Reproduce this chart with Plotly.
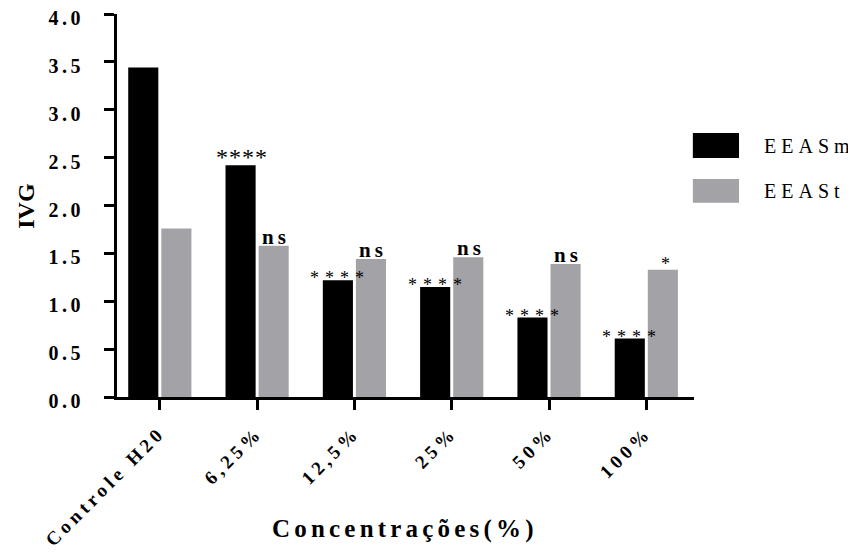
import plotly.graph_objects as go

categories = ["Controle H20", "6,25%", "12,5%", "25%", "50%", "100%"]
eeasm = [3.44, 2.42, 1.22, 1.15, 0.83, 0.61]
eeast = [1.76, 1.58, 1.44, 1.46, 1.39, 1.33]
sig_eeasm = ["", "****", "****", "****", "****", "****"]
sig_eeast = ["", "ns", "ns", "ns", "ns", "*"]
series_names = ["EEASm", "EEASt"]
y_ticks = [0.0, 0.5, 1.0, 1.5, 2.0, 2.5, 3.0, 3.5, 4.0]

BLACK = "#000000"
GRAY = "#a3a2a6"
SERIF = "Liberation Serif, Times New Roman, serif"


def spaced(text, px, bold=False):
    s = '<span style="letter-spacing:%spx">%s</span>' % (px, text)
    return "<b>%s</b>" % s if bold else s


fig = go.Figure()
fig.add_trace(go.Bar(x=categories, y=eeasm, name=series_names[0],
                     marker=dict(color=BLACK, line=dict(width=0)), showlegend=False))
fig.add_trace(go.Bar(x=categories, y=eeast, name=series_names[1],
                     marker=dict(color=GRAY, line=dict(width=0)), showlegend=False))

annotations = []
for i, (cat, v, s) in enumerate(zip(categories, eeasm, sig_eeasm)):
    if not s:
        continue
    if i == 1:
        txt, size, ys, xs = spaced(s, 1), 24, -7, -15
    else:
        txt, size, ys, xs = spaced(s, 6), 18, -10, -14
    annotations.append(dict(x=cat, y=v, text=txt, xref="x", yref="y", showarrow=False,
                            xshift=xs, yanchor="bottom", yshift=ys,
                            font=dict(family=SERIF, size=size, color="black")))
for cat, v, s in zip(categories, eeast, sig_eeast):
    if not s:
        continue
    if s == "ns":
        txt, size, ys = spaced(s, 4, bold=True), 21, -5
    else:
        txt, size, ys = spaced(s, 0), 18, -6
    annotations.append(dict(x=cat, y=v, text=txt, xref="x", yref="y", showarrow=False,
                            xshift=19, yanchor="bottom", yshift=ys,
                            font=dict(family=SERIF, size=size, color="black")))

# custom legend (large swatches)
legend_colors = [BLACK, GRAY]
legend_y = [(0.624, 0.689), (0.507, 0.569)]
shapes = []
for name, col, (y0, y1) in zip(series_names, legend_colors, legend_y):
    shapes.append(dict(type="rect", xref="paper", yref="paper", x0=0.998, x1=1.078,
                       y0=y0, y1=y1, fillcolor=col, line=dict(width=0)))
    annotations.append(dict(x=1.118, y=(y0 + y1) / 2, xref="paper", yref="paper",
                            text=spaced(name, 5), showarrow=False,
                            xanchor="left", yanchor="middle",
                            font=dict(family=SERIF, size=20, color="black")))

annotations.append(dict(x=0.499, y=-0.345, xref="paper", yref="paper",
                        text=spaced("Concentrações(%)", 4.2, bold=True), showarrow=False,
                        xanchor="center", yanchor="middle",
                        font=dict(family=SERIF, size=25, color="black")))
annotations.append(dict(x=-0.159, y=0.50, xref="paper", yref="paper",
                        text="<b>IVG</b>", showarrow=False, textangle=-90,
                        xanchor="center", yanchor="middle",
                        font=dict(family=SERIF, size=24, color="black")))

# the page body adds an 8px offset; margins compensate so the plot lands where the reference has it
fig.update_layout(
    width=848, height=546,
    margin=dict(l=109, r=162, t=6, b=157),
    plot_bgcolor="white", paper_bgcolor="white",
    barmode="group", bargap=0.32, bargroupgap=0.09,
    shapes=shapes, annotations=annotations,
    font=dict(family=SERIF, color="black"),
)
fig.update_xaxes(range=[-0.44, 5.49], showline=True, linecolor="black", linewidth=3,
                 ticks="outside", ticklen=10, tickwidth=3, tickcolor="black",
                 tickvals=categories, ticktext=[spaced(c, 4.2) for c in categories],
                 tickangle=-45, ticklabelstandoff=4, ticklabeloverflow="allow",
                 tickfont=dict(family=SERIF, size=19, color="black", weight="bold"),
                 showgrid=False, zeroline=False, automargin=False)
fig.update_yaxes(range=[0, 4], tickvals=y_ticks,
                 ticktext=[spaced("%.1f" % t, 3.5) for t in y_ticks],
                 showline=True, linecolor="black", linewidth=3,
                 ticks="outside", ticklen=10, tickwidth=3, tickcolor="black",
                 ticklabelstandoff=16, ticklabelshift=4, ticklabeloverflow="allow",
                 tickfont=dict(family=SERIF, size=20, color="black", weight="bold"),
                 showgrid=False, zeroline=False, automargin=False)

fig.write_html("out.html")
